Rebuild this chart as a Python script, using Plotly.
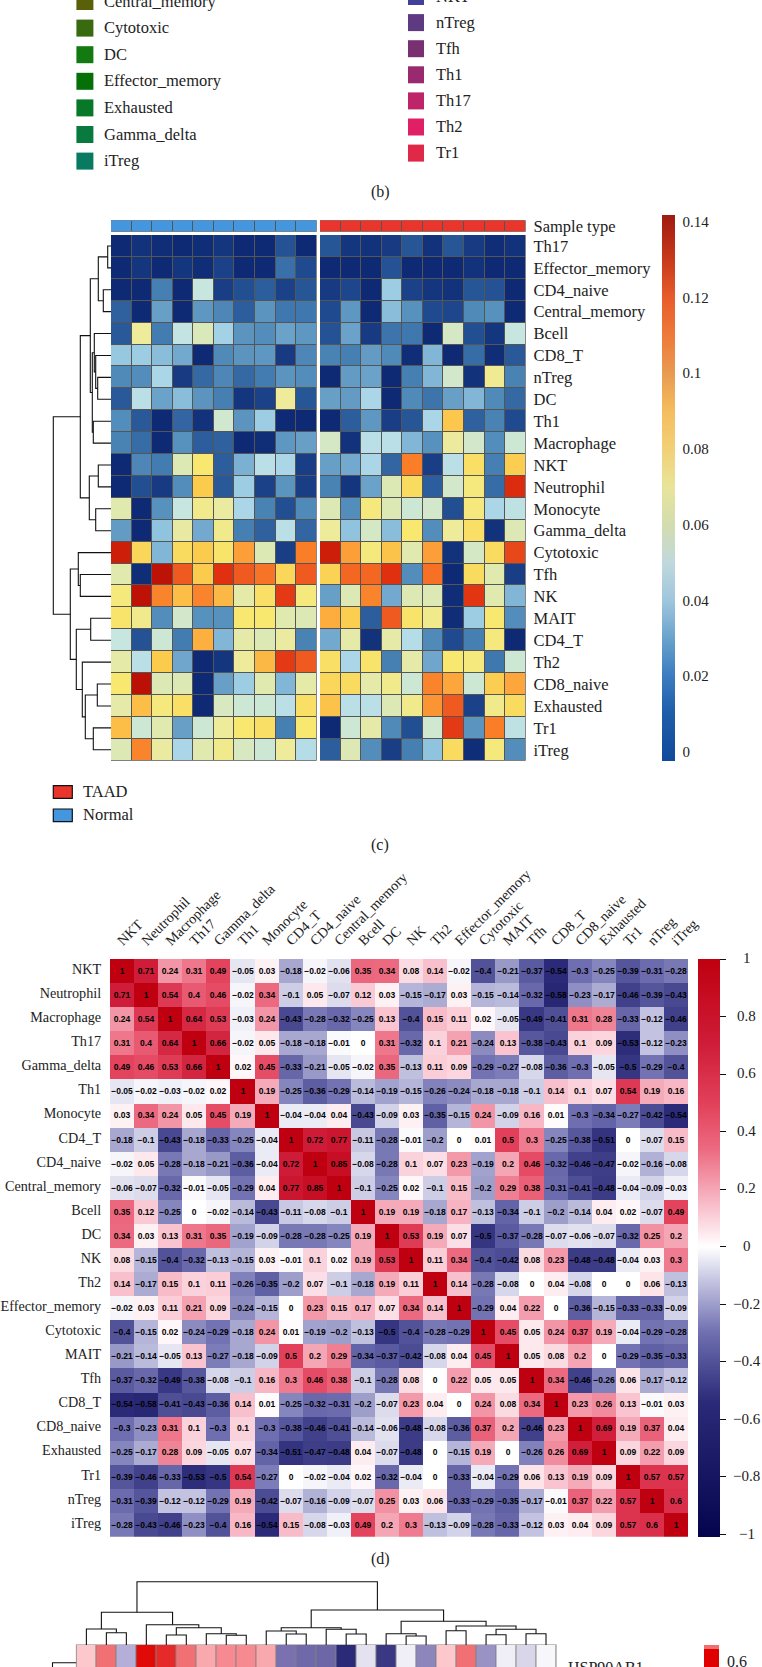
import numpy as np
import plotly.graph_objects as go

W, H = 762, 1667
SERIF = "Liberation Serif"

# ---------- panel (b) legend (cropped) ----------
legend_left_names = ["Central_memory", "Cytotoxic", "DC", "Effector_memory", "Exhausted", "Gamma_delta", "iTreg"]
legend_left_colors = ["#5a5f0a", "#3a6a10", "#127a10", "#067008", "#077828", "#087a40", "#087a60"]
legend_right_names = ["NKT", "nTreg", "Tfh", "Th1", "Th17", "Th2", "Tr1"]
legend_right_colors = ["#43409a", "#5f3a80", "#7a3070", "#992a70", "#c02468", "#e02064", "#e02848"]

# ---------- panel (c) : per-mille fractions, rows by columns ----------
c_rows = ["Th17", "Effector_memory", "CD4_naive", "Central_memory", "Bcell", "CD8_T", "nTreg", "DC", "Th1",
          "Macrophage", "NKT", "Neutrophil", "Monocyte", "Gamma_delta", "Cytotoxic", "Tfh", "NK", "MAIT",
          "CD4_T", "Th2", "CD8_naive", "Exhausted", "Tr1", "iTreg"]
normal_permille = [
    [2, 4, 3, 2, 3, 5, 2, 2, 12, 2],
    [2, 5, 2, 5, 3, 8, 2, 2, 20, 10],
    [2, 2, 24, 2, 50, 7, 11, 15, 8, 13],
    [16, 2, 33, 2, 31, 26, 15, 30, 22, 22],
    [14, 66, 23, 49, 57, 43, 30, 28, 34, 31],
    [41, 42, 39, 36, 2, 27, 30, 31, 6, 26],
    [27, 28, 44, 6, 18, 26, 18, 23, 30, 28],
    [14, 47, 34, 39, 30, 24, 5, 8, 66, 13],
    [28, 14, 2, 17, 4, 53, 30, 42, 2, 2],
    [25, 19, 2, 29, 15, 16, 2, 3, 31, 33],
    [2, 26, 23, 58, 72, 15, 37, 47, 44, 7],
    [2, 11, 6, 28, 85, 14, 42, 8, 30, 7],
    [60, 2, 29, 50, 68, 64, 44, 25, 11, 27],
    [32, 2, 40, 63, 36, 68, 24, 16, 47, 17],
    [132, 80, 38, 78, 85, 74, 100, 58, 7, 110],
    [60, 3, 137, 118, 85, 127, 118, 112, 80, 118],
    [70, 137, 108, 90, 108, 92, 62, 76, 125, 70],
    [74, 68, 28, 54, 29, 29, 72, 72, 60, 58],
    [50, 12, 52, 23, 95, 38, 62, 58, 64, 25],
    [62, 47, 85, 35, 2, 5, 66, 92, 125, 118],
    [72, 138, 58, 58, 2, 33, 42, 60, 38, 62],
    [62, 90, 70, 76, 2, 56, 52, 52, 47, 76],
    [90, 52, 60, 33, 52, 66, 72, 76, 24, 72],
    [58, 108, 64, 44, 60, 68, 56, 52, 66, 46],
]
taad_permille = [
    [13, 5, 4, 6, 13, 4, 13, 6, 3, 4],
    [2, 2, 2, 12, 2, 2, 2, 4, 2, 2],
    [6, 9, 2, 42, 8, 5, 4, 13, 12, 2],
    [10, 31, 2, 39, 29, 10, 9, 27, 29, 2],
    [12, 34, 6, 21, 22, 2, 55, 11, 5, 50],
    [25, 24, 32, 27, 3, 38, 2, 19, 3, 14],
    [2, 32, 34, 2, 24, 38, 54, 4, 67, 25],
    [33, 32, 44, 2, 27, 21, 33, 38, 27, 18],
    [2, 15, 31, 7, 13, 44, 86, 16, 25, 10],
    [55, 4, 47, 47, 38, 29, 65, 54, 28, 52],
    [33, 36, 44, 17, 110, 7, 47, 76, 24, 84],
    [25, 5, 34, 58, 78, 15, 54, 70, 19, 128],
    [58, 28, 70, 58, 52, 54, 11, 70, 44, 48],
    [66, 40, 55, 39, 72, 28, 66, 76, 4, 58],
    [132, 100, 70, 88, 60, 100, 4, 55, 78, 122],
    [82, 115, 115, 127, 28, 113, 2, 78, 60, 7],
    [33, 58, 108, 36, 58, 58, 3, 126, 60, 38],
    [96, 84, 15, 118, 74, 68, 3, 42, 72, 28],
    [36, 62, 4, 62, 46, 27, 10, 24, 70, 2],
    [76, 44, 74, 24, 62, 35, 72, 70, 22, 52],
    [80, 78, 62, 68, 52, 108, 98, 52, 84, 98],
    [88, 47, 47, 58, 68, 103, 118, 8, 68, 78],
    [2, 52, 62, 27, 11, 53, 125, 30, 110, 48],
    [15, 58, 28, 7, 24, 40, 78, 3, 70, 28],
]
sample_legend = ["TAAD", "Normal"]
# nested merges: (merge height, child, child); integers are rows
c_tree = (57.7,
          (30.7,
           (20.7,
            (12.7, (3.3, 0, 1), (7.7, 2, 3)),
            (18.7, (16.7, 4, (15.3, 5, (13.3, 6, 7))), (17.7, 8, 9))),
           (21.7, (12.7, 10, 11), (15.3, 12, 13))),
          (40.7,
           (32.7, 14, (30.7, 15, 16)),
           (34.7, (20.3, 17, 18),
            (28.7, 19, (25.7, (13.7, 20, 21), (17.7, 22, 23))))))

# ---------- panel (d) : correlation matrix ----------
d_names = ["NKT", "Neutrophil", "Macrophage", "Th17", "Gamma_delta", "Th1", "Monocyte", "CD4_T", "CD4_naive",
           "Central_memory", "Bcell", "DC", "NK", "Th2", "Effector_memory", "Cytotoxic", "MAIT", "Tfh", "CD8_T",
           "CD8_naive", "Exhausted", "Tr1", "nTreg", "iTreg"]
d_corr = [
    [1, .71, .24, .31, .49, -.05, .03, -.18, -.02, -.06, .35, .34, .08, .14, -.02, -.4, -.21, -.37, -.54, -.3, -.25, -.39, -.31, -.28],
    [.71, 1, .54, .4, .46, -.02, .34, -.1, .05, -.07, .12, .03, -.15, -.17, .03, -.15, -.14, -.32, -.58, -.23, -.17, -.46, -.39, -.43],
    [.24, .54, 1, .64, .53, -.03, .24, -.43, -.28, -.32, -.25, .13, -.4, .15, .11, .02, -.05, -.49, -.41, .31, .28, -.33, -.12, -.46],
    [.31, .4, .64, 1, .66, -.02, .05, -.18, -.18, -.01, 0, .31, -.32, .1, .21, -.24, .13, -.38, -.43, .1, .09, -.53, -.12, -.23],
    [.49, .46, .53, .66, 1, .02, .45, -.33, -.21, -.05, -.02, .35, -.13, .11, .09, -.29, -.27, -.08, -.36, -.3, -.05, -.5, -.29, -.4],
    [-.05, -.02, -.03, -.02, .02, 1, .19, -.25, -.36, -.29, -.14, -.19, -.15, -.26, -.24, -.18, -.18, -.1, .14, .1, .07, .54, .19, .16],
    [.03, .34, .24, .05, .45, .19, 1, -.04, -.04, .04, -.43, -.09, .03, -.35, -.15, .24, -.09, .16, .01, -.3, -.34, -.27, -.42, -.54],
    [-.18, -.1, -.43, -.18, -.33, -.25, -.04, 1, .72, .77, -.11, -.28, -.01, -.2, 0, .01, .5, .3, -.25, -.38, -.51, 0, -.07, .15],
    [-.02, .05, -.28, -.18, -.21, -.36, -.04, .72, 1, .85, -.08, -.28, .1, .07, .23, -.19, .2, .46, -.32, -.46, -.47, -.02, -.16, -.08],
    [-.06, -.07, -.32, -.01, -.05, -.29, .04, .77, .85, 1, -.1, -.25, .02, -.1, .15, -.2, .29, .38, -.31, -.41, -.48, -.04, -.09, -.03],
    [.35, .12, -.25, 0, -.02, -.14, -.43, -.11, -.08, -.1, 1, .19, .19, -.18, .17, -.13, -.34, -.1, -.2, -.14, .04, .02, -.07, .49],
    [.34, .03, .13, .31, .35, -.19, -.09, -.28, -.28, -.25, .19, 1, .53, .19, .07, -.5, -.37, -.28, -.07, -.06, -.07, -.32, .25, .2],
    [.08, -.15, -.4, -.32, -.13, -.15, .03, -.01, .1, .02, .19, .53, 1, .11, .34, -.4, -.42, .08, .23, -.48, -.48, -.04, .03, .3],
    [.14, -.17, .15, .1, .11, -.26, -.35, -.2, .07, -.1, -.18, .19, .11, 1, .14, -.28, -.08, 0, .04, -.08, 0, 0, .06, -.13],
    [-.02, .03, .11, .21, .09, -.24, -.15, 0, .23, .15, .17, .07, .34, .14, 1, -.29, .04, .22, 0, -.36, -.15, -.33, -.33, -.09],
    [-.4, -.15, .02, -.24, -.29, -.18, .24, .01, -.19, -.2, -.13, -.5, -.4, -.28, -.29, 1, .45, .05, .24, .37, .19, -.04, -.29, -.28],
    [-.21, -.14, -.05, .13, -.27, -.18, -.09, .5, .2, .29, -.34, -.37, -.42, -.08, .04, .45, 1, .05, .08, .2, 0, -.29, -.35, -.33],
    [-.37, -.32, -.49, -.38, -.08, -.1, .16, .3, .46, .38, -.1, -.28, .08, 0, .22, .05, .05, 1, .34, -.46, -.26, .06, -.17, -.12],
    [-.54, -.58, -.41, -.43, -.36, .14, .01, -.25, -.32, -.31, -.2, -.07, .23, .04, 0, .24, .08, .34, 1, .23, .26, .13, -.01, .03],
    [-.3, -.23, .31, .1, -.3, .1, -.3, -.38, -.46, -.41, -.14, -.06, -.48, -.08, -.36, .37, .2, -.46, .23, 1, .69, .19, .37, .04],
    [-.25, -.17, .28, .09, -.05, .07, -.34, -.51, -.47, -.48, .04, -.07, -.48, 0, -.15, .19, 0, -.26, .26, .69, 1, .09, .22, .09],
    [-.39, -.46, -.33, -.53, -.5, .54, -.27, 0, -.02, -.04, .02, -.32, -.04, 0, -.33, -.04, -.29, .06, .13, .19, .09, 1, .57, .57],
    [-.31, -.39, -.12, -.12, -.29, .19, -.42, -.07, -.16, -.09, -.07, .25, .03, .06, -.33, -.29, -.35, -.17, -.01, .37, .22, .57, 1, .6],
    [-.28, -.43, -.46, -.23, -.4, .16, -.54, .15, -.08, -.03, .49, .2, .3, -.13, -.09, -.28, -.33, -.12, .03, .04, .09, .57, .6, 1],
]
d_ticks = [1, .8, .6, .4, .2, 0, -.2, -.4, -.6, -.8, -1]

# ---------- panel (e) : only the first row survives the crop ----------
e_row_name = "HSP90AB1"
e_row = [.12, .34, -.2, .6, .53, .34, .2, .28, .28, .2, -.35, -.38, -.39, -.6, -.07, -.55, -.04, -.3, .12, .34, -.27, -.04, -.1, -.02]
e_tree = (63.3,
          (32.7,
           (16, 0, (12.3, 1, 2)),
           (20.3, 3, (17.3, (10, 4, 5), (11.3, 6, (9.7, 7, 8))))),
          (35,
           (17.3, (14, 9, (11, 10, 11)), (15.7, 12, (11, 13, 14))),
           (23.7,
            (11.3, 15, (9, 16, 17)),
            (19, (14.3, 18, 19), (15.7, (10.3, 20, 21), (11.3, 22, 23))))))
e_row_tree = (23.9, 0, 1)


# ---------- helpers ----------
def px(x): return x / W
def py(y): return 1 - y / H


def scale(stops, lo, hi):
    return [[(v - lo) / (hi - lo), c] for v, c in stops]


def tree_lines(node, seg_a, seg_b):
    """Walk merges; seg_a holds heights, seg_b leaf-axis positions. Returns (height, position)."""
    if not isinstance(node, tuple):
        return 0, node
    h, l, r = node
    hl, pl = tree_lines(l, seg_a, seg_b)
    hr, pr = tree_lines(r, seg_a, seg_b)
    seg_a += [hl, h, h, hr, None]
    seg_b += [pl, pl, pr, pr, None]
    return h, (pl + pr) / 2


c_cells = scale([(.002, "#0e2a74"), (.01, "#1f4a8f"), (.022, "#3f78ae"), (.03, "#5a94bf"), (.036, "#74a9cf"),
                 (.04, "#90c3de"), (.045, "#b0dbea"), (.05, "#c8e6e0"), (.058, "#dde9b5"), (.066, "#eeeb9a"),
                 (.072, "#f8e86f"), (.085, "#fbcb4e"), (.095, "#fdb040"), (.11, "#fa7d28"), (.118, "#ef5a20"),
                 (.127, "#e03010"), (.133, "#c81a08"), (.14, "#b50c05")], .002, .14)
C_CB_LO, C_CB_HI = -.0024, .1419
c_bar = scale([(C_CB_LO, "#0f4a9c"), (.01, "#1f5ca8"), (.02, "#3a7cc0"), (.03, "#6aa2cc"), (.04, "#9fc6dd"),
               (.05, "#c0d8dc"), (.06, "#d3dcb0"), (.07, "#e8e49a"), (.08, "#f2d078"), (.09, "#f5bd5e"),
               (.1, "#e89a52"), (.11, "#ee7a3a"), (.12, "#e85c2c"), (.13, "#c83a1c"), (C_CB_HI, "#a01a10")],
              C_CB_LO, C_CB_HI)
D_LO, D_HI = -1.009, 1.0017
d_scale = scale([(D_LO, "#04044e"), (-.54, "#2a2a78"), (-.3, "#6e6eb0"), (-.1, "#cdcde6"), (0, "#ffffff"),
                 (.13, "#f9c4d0"), (.34, "#ec6a80"), (.5, "#e2405a"), (.71, "#cf1c38"), (1, "#bf0010"), (D_HI, "#bf0010")],
                D_LO, D_HI)
E_LO, E_HI = -.62, .62
e_scale = scale([(E_LO, "#202070"), (-.6, "#2a2a78"), (-.35, "#7a72b0"), (-.2, "#b4aed8"), (-.07, "#e4e2f0"),
                 (0, "#ffffff"), (.12, "#fcc8cc"), (.28, "#f68a90"), (.34, "#f07074"), (.53, "#e62a2a"),
                 (.6, "#e00a08"), (E_HI, "#e00000")], E_LO, E_HI)
E_CB_LO, E_CB_HI = .579, .667
e_bar = scale([(E_CB_LO, "#e00000"), (.651, "#e00000"), (.652, "#f07070"), (E_CB_HI, "#f07070")], E_CB_LO, E_CB_HI)

fig = go.Figure()
BLANK = dict(visible=False, fixedrange=True)
layout = {}


def axes(n, x0, x1, y0, y1, xrange, yrange, xextra=None, yextra=None):
    sx, sy = "" if n == 1 else str(n), "" if n == 1 else str(n)
    xa = dict(BLANK, domain=[px(x0), px(x1)], range=xrange, anchor=f"y{sy}")
    ya = dict(BLANK, domain=[py(y1), py(y0)], range=yrange, anchor=f"x{sx}")
    if xextra: xa.update(visible=True, showgrid=False, zeroline=False, showline=False, **xextra)
    if yextra: ya.update(visible=True, showgrid=False, zeroline=False, showline=False, **yextra)
    layout[f"xaxis{sx}"] = xa
    layout[f"yaxis{sy}"] = ya
    return f"x{sx}", f"y{sy}"


# panel (c) geometry
CX0, CX1, CX2, CX3 = 111, 316.7, 320, 525.7
CY0, CY1 = 235, 760.7
AY0, AY1 = 220.3, 231.7
n_c = len(c_rows)
rows_c = list(range(n_c))
rev_c = [n_c - .5, -.5]
col_r = [-.5, 9.5]
label_c = dict(family=SERIF, size=16.5, color="#222222")

xa, ya = axes(1, CX0, CX1, CY0, CY1, col_r, rev_c)
fig.add_trace(go.Heatmap(z=np.array(normal_permille) / 1000, y=rows_c, xaxis=xa, yaxis=ya, xgap=1, ygap=1,
                         colorscale=c_cells, zmin=.002, zmax=.14, showscale=False, hoverinfo="skip"))
xa, ya = axes(2, CX2, CX3, CY0, CY1, col_r, rev_c,
              yextra=dict(side="right", tickvals=rows_c, ticktext=c_rows, tickfont=label_c, ticks="outside",
                          ticklen=3.5, tickcolor="rgba(0,0,0,0)"))
fig.add_trace(go.Heatmap(z=np.array(taad_permille) / 1000, y=rows_c, xaxis=xa, yaxis=ya, xgap=1, ygap=1,
                         colorscale=c_cells, zmin=.002, zmax=.14, showscale=False, hoverinfo="skip"))
two = [[0, "#4497de"], [1, "#e9352b"]]
xa, ya = axes(3, CX0, CX1, AY0, AY1, col_r, [-.5, .5])
fig.add_trace(go.Heatmap(z=[[0] * 10], xaxis=xa, yaxis=ya, xgap=1, colorscale=two, zmin=0, zmax=1,
                         showscale=False, hoverinfo="skip"))
xa, ya = axes(4, CX2, CX3, AY0, AY1, col_r, [-.5, .5],
              yextra=dict(side="right", tickvals=[0], ticktext=["Sample type"], tickfont=label_c, ticks="outside",
                          ticklen=3.5, tickcolor="rgba(0,0,0,0)"))
fig.add_trace(go.Heatmap(z=[[1] * 10], xaxis=xa, yaxis=ya, xgap=1, colorscale=two, zmin=0, zmax=1,
                         showscale=False, hoverinfo="skip"))
# row dendrogram of (c)
xa, ya = axes(5, 50, CX0, CY0, CY1, [61, 0], rev_c)
hs, ps = [], []
tree_lines(c_tree, hs, ps)
fig.add_trace(go.Scatter(x=hs, y=ps, xaxis=xa, yaxis=ya, mode="lines", line=dict(color="#111111", width=1.1),
                         hoverinfo="skip", showlegend=False, connectgaps=False))
# colour bar of (c), driven by an invisible marker so its ramp can differ from the printed cells
fig.add_trace(go.Scatter(x=[30], y=[0], xaxis=xa, yaxis=ya, mode="markers", hoverinfo="skip", showlegend=False,
                         marker=dict(size=1, opacity=0, color=[0], colorscale=c_bar, cmin=C_CB_LO, cmax=C_CB_HI,
                                     showscale=True,
                                     colorbar=dict(x=px(662), xanchor="left", y=py(CY1), yanchor="bottom",
                                                   lenmode="pixels", len=CY1 - 215, thicknessmode="pixels",
                                                   thickness=13, xpad=0, ypad=0, outlinewidth=0,
                                                   tickvals=[0, .02, .04, .06, .08, .1, .12, .14],
                                                   ticktext=["0", "0.02", "0.04", "0.06", "0.08", "0.1", "0.12", "0.14"],
                                                   ticks="outside", ticklen=5, tickcolor="rgba(0,0,0,0)",
                                                   tickfont=dict(family=SERIF, size=15, color="#222222")))))

# panel (d)
DX0, DX1, DY0, DY1 = 110, 688.3, 959, 1536.7
n_d = len(d_names)
idx_d = list(range(n_d))
label_d = dict(family=SERIF, size=14.2, color="#222222")
xa, ya = axes(6, DX0, DX1, DY0, DY1, [-.5, n_d - .5], [n_d - .5, -.5],
              xextra=dict(side="top", tickvals=idx_d, ticktext=d_names, tickangle=-45, tickfont=label_d,
                          ticks="outside", ticklen=4, tickcolor="rgba(0,0,0,0)", ticklabelshift=-4),
              yextra=dict(side="left", tickvals=idx_d, ticktext=d_names, tickfont=label_d, ticks="outside",
                          ticklen=5, tickcolor="rgba(0,0,0,0)", ticklabelshift=2))
d_text = [[f"{v:g}".replace("-0.", "\u22120.") for v in row] for row in d_corr]
fig.add_trace(go.Heatmap(z=d_corr, x=idx_d, y=idx_d, xaxis=xa, yaxis=ya, text=d_text, texttemplate="%{text}",
                         textfont=dict(family="Liberation Sans", size=8.5, color="#000000", weight="bold"),
                         colorscale=d_scale, zmin=D_LO, zmax=D_HI, hoverinfo="skip",
                         colorbar=dict(x=px(698.3), xanchor="left", y=py(DY1), yanchor="bottom", lenmode="pixels",
                                       len=DY1 - DY0, thicknessmode="pixels", thickness=21.7, xpad=0, ypad=0,
                                       outlinewidth=0, tickvals=d_ticks, ticks="outside", ticklen=6,
                                       tickcolor="#111111", showticklabels=False)))

# panel (e)
EX0, EX1, EY0 = 76.4, 556, 1645
ROW_E = 36
xa, ya = axes(7, EX0, EX1, EY0, H, [-.5, 23.5], [-.5 + (H - EY0) / ROW_E, -.5])
fig.add_trace(go.Heatmap(z=[e_row], y=[0], xaxis=xa, yaxis=ya, xgap=1, ygap=1, colorscale=e_scale, zmin=E_LO,
                         zmax=E_HI, hoverinfo="skip", showscale=False))
fig.add_trace(go.Scatter(x=[0], y=[0], xaxis=xa, yaxis=ya, mode="markers", hoverinfo="skip", showlegend=False,
                         marker=dict(size=1, opacity=0, color=[.6], colorscale=e_bar, cmin=E_CB_LO, cmax=E_CB_HI,
                                     showscale=True,
                                     colorbar=dict(x=px(703.6), xanchor="left", y=0, yanchor="bottom", lenmode="pixels",
                                                   len=H - EY0, thicknessmode="pixels", thickness=15, xpad=0, ypad=0,
                                                   outlinewidth=0, showticklabels=False, ticks=""))))
xa, ya = axes(8, EX0, EX1, 1578, EY0, [-.5, 23.5], [0, 67])
hs, ps = [], []
tree_lines(e_tree, hs, ps)
fig.add_trace(go.Scatter(x=ps, y=hs, xaxis=xa, yaxis=ya, mode="lines", line=dict(color="#111111", width=1.1),
                         hoverinfo="skip", showlegend=False))
xa, ya = axes(9, 50, EX0, EY0, H, [26.4, 0], [(H - 1662.7) / ROW_E, (EY0 - 1662.7) / ROW_E])
hs, ps = [], []
tree_lines(e_row_tree, hs, ps)
fig.add_trace(go.Scatter(x=hs, y=ps, xaxis=xa, yaxis=ya, mode="lines", line=dict(color="#111111", width=1.1),
                         hoverinfo="skip", showlegend=False))

# ---------- shapes and free text ----------
shapes, notes = [], []


def rect(x0, y0, x1, y1, fill, line=None, width=0, layer="below"):
    shapes.append(dict(type="rect", xref="paper", yref="paper", x0=px(x0), x1=px(x1), y0=py(y1), y1=py(y0),
                       fillcolor=fill, line=dict(color=line or fill, width=width), layer=layer))


def note(text, x, y, size=16.5, anchor="left", family=SERIF):
    notes.append(dict(text=text, xref="paper", yref="paper", x=px(x), y=py(y), xanchor=anchor, yanchor="middle",
                      showarrow=False, borderpad=0, font=dict(family=family, size=size, color="#222222")))


# grid colour seen through heatmap gaps
rect(CX0, CY0, CX1, CY1, "#555555")
rect(CX2, CY0, CX3, CY1, "#555555")
rect(CX0, AY0, CX1, AY1, "#555555")
rect(CX2, AY0, CX3, AY1, "#555555")
rect(EX0 - .5, EY0 - .5, EX1 + .5, H + 2, "#808080")

for i, (name, col) in enumerate(zip(legend_left_names, legend_left_colors)):
    c = 1.5 + 26.6 * i
    rect(76.4, c - 8.5, 93.4, c + 8.5, col)
    note(name, 103, c - .5)
for i, (name, col) in enumerate(zip(legend_right_names, legend_right_colors)):
    c = -3.5 + 26.1 * i
    rect(408, c - 8.5, 424, c + 8.5, col)
    note(name, 434.5, c - .5)

for i, (name, col) in enumerate(zip(sample_legend, ["#e9352b", "#4497de"])):
    rect(53.3, 785.7 + 23.3 * i, 72.3, 798.3 + 23.3 * i, col, "#111111", 1.2)
    note(name, 82.3, 791.5 + 23.3 * i)

for t in d_ticks:
    y = DY0 - 1 + (1 - t) * 288
    note(f"{t:g}".replace("-", "\u2212"), 746.7, y, size=15, anchor="center")

note("0.6", 726, 1661.7, size=16)
note(e_row_name, 567, 1667, size=16)
note("(b)", 380, 192, size=16, anchor="center")
note("(c)", 380, 845, size=16, anchor="center")
note("(d)", 380, 1559, size=16, anchor="center")

fig.update_layout(width=W, height=H, margin=dict(l=0, r=0, t=0, b=0, autoexpand=False), paper_bgcolor="white",
                  plot_bgcolor="rgba(0,0,0,0)", showlegend=False, shapes=shapes, annotations=notes, **layout)
fig.write_html("out.html", config=dict(displayModeBar=False),
               post_script="document.body.style.margin='0';")
